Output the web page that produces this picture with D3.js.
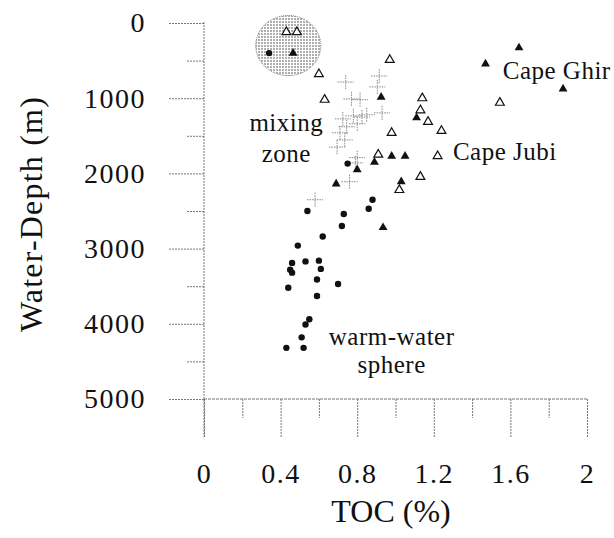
<!DOCTYPE html>
<html>
<head>
<meta charset="utf-8">
<script src="https://cdn.jsdelivr.net/npm/d3@7"></script>
</head>
<body style="margin:0; background:#fff">
<script>
// ---- data: TOC (%) vs water depth (m)

// warm-water sphere, filled circles
var circTOC   = [0.34, 0.75, 0.88, 0.86, 0.54, 0.73, 0.72, 0.62, 0.49, 0.46, 0.45, 0.46, 0.53, 0.60, 0.61, 0.59, 0.70, 0.44, 0.59, 0.55, 0.53, 0.51, 0.52, 0.43];
var circDepth = [400, 1870, 2350, 2470, 2500, 2540, 2700, 2840, 2960, 3190, 3280, 3320, 3170, 3160, 3270, 3410, 3470, 3520, 3630, 3940, 4010, 4180, 4320, 4320];

// Cape Ghir, filled triangles
var ghirTOC   = [0.465, 1.645, 1.47, 1.875, 0.925, 1.11, 0.98, 1.05, 0.89, 0.80, 0.69, 1.03, 0.935];
var ghirDepth = [400, 330, 545, 877, 985, 1260, 1770, 1770, 1850, 1950, 2140, 2110, 2720];

// Cape Jubi, open triangles
var jubiTOC   = [0.43, 0.485, 0.97, 0.60, 0.63, 1.14, 1.13, 1.17, 1.24, 0.98, 0.91, 1.22, 1.13, 1.02, 1.545];
var jubiDepth = [120, 120, 490, 680, 1020, 1000, 1160, 1315, 1435, 1460, 1750, 1770, 2045, 2220, 1060];

// mixing zone, crosses
var mixTOC   = [0.74, 0.915, 0.905, 0.77, 0.815, 0.93, 0.78, 0.725, 0.825, 0.80, 0.745, 0.71, 0.735, 0.695, 0.80, 0.79, 0.76, 0.58, 0.85];
var mixDepth = [785, 705, 850, 1010, 1020, 1195, 1235, 1275, 1250, 1340, 1380, 1460, 1555, 1650, 1790, 1860, 2110, 2350, 1220];

var xTicks = [0, 0.4, 0.8, 1.2, 1.6, 2];
var xMinor = [0.2, 0.6, 1.0, 1.4, 1.8];
var yTicks = [0, 1000, 2000, 3000, 4000, 5000];
var yMinor = [500, 1500, 2500, 3500, 4500];

var labels = [
  { text: "Cape Ghir", toc: 1.56, depth: 740, anchor: "start" },
  { text: "Cape Jubi", toc: 1.30, depth: 1820, anchor: "start" },
  { text: "mixing", toc: 0.43, depth: 1435, anchor: "middle" },
  { text: "zone", toc: 0.43, depth: 1845, anchor: "middle" },
  { text: "warm-water", toc: 0.98, depth: 4280, anchor: "middle" },
  { text: "sphere", toc: 0.98, depth: 4650, anchor: "middle" }
];

// ---- drawing
var width = 614, height = 538;
var serif = "'Liberation Serif'";
var svg = d3.select("body").append("svg")
  .attr("width", width).attr("height", height)
  .style("font-family", serif);

var x = d3.scaleLinear().domain([0, 2]).range([204, 587]);
var y = d3.scaleLinear().domain([0, 5000]).range([23, 399]);

var axisColor = "#777";

// serif face + size on a text selection
function serifText(sel, size) {
  sel.style("font-family", serif)
    .attr("font-size", size)
    .attr("fill", "#111");
}

// stipple pattern for the highlighted cluster
var defs = svg.append("defs");
var pat = defs.append("pattern")
  .attr("id", "stipple")
  .attr("width", 3).attr("height", 3)
  .attr("patternUnits", "userSpaceOnUse");
pat.append("circle").attr("cx", 1).attr("cy", 1).attr("r", 0.75).attr("fill", "#333");

svg.append("ellipse")
  .attr("cx", x(0.44)).attr("cy", y(300))
  .attr("rx", x(0.17) - x(0))
  .attr("ry", y(400) - y(0))
  .attr("fill", "url(#stipple)")
  .attr("stroke", "#555")
  .attr("stroke-width", 0.8)
  .attr("stroke-dasharray", "1,1");

// y axis, ticks pointing left
var yAxis = d3.axisLeft(y).tickValues(yTicks).tickSize(36).tickPadding(22)
  .tickFormat(d3.format("d"));
var gy = svg.append("g").attr("transform", "translate(204,0)").call(yAxis);
gy.select(".domain").remove();

var yAxisMinor = d3.axisLeft(y).tickValues(yMinor).tickSize(18).tickFormat("");
var gy2 = svg.append("g").attr("transform", "translate(204,0)").call(yAxisMinor);
gy2.select(".domain").remove();

// x axis, ticks pointing down from the 5000 m line
var xAxis = d3.axisBottom(x).tickValues(xTicks).tickSize(38).tickPadding(26)
  .tickFormat(function (d) { return d === 0 || d === 2 ? d3.format("d")(d) : d3.format(".1f")(d); });
var gx = svg.append("g").attr("transform", "translate(0,399)").call(xAxis);
gx.select(".domain").remove();

var xAxisMinor = d3.axisBottom(x).tickValues(xMinor).tickSize(19).tickFormat("");
var gx2 = svg.append("g").attr("transform", "translate(0,399)").call(xAxisMinor);
gx2.select(".domain").remove();

// drop the sans-serif / size attributes d3 puts on axis groups
svg.selectAll("g").attr("font-family", null).attr("font-size", null);
svg.selectAll(".tick line")
  .attr("stroke", axisColor)
  .attr("stroke-width", 1)
  .attr("stroke-dasharray", "2,1");
svg.selectAll(".tick text")
  .call(serifText, 28)
  .attr("letter-spacing", "1.5px");

// frame lines
svg.append("line")
  .attr("x1", x(0)).attr("x2", x(0))
  .attr("y1", y(0) - 1).attr("y2", 437)
  .attr("stroke", axisColor).attr("stroke-dasharray", "2,1");
svg.append("line")
  .attr("x1", x(0)).attr("x2", x(2))
  .attr("y1", y(5000)).attr("y2", y(5000))
  .attr("stroke", axisColor).attr("stroke-dasharray", "3,1");

// axis titles
svg.append("text")
  .attr("transform", "translate(42,214) rotate(-90)")
  .attr("text-anchor", "middle")
  .attr("letter-spacing", "1.2px")
  .call(serifText, 32)
  .text("Water-Depth (m)");

svg.append("text")
  .attr("x", 391).attr("y", 522)
  .attr("text-anchor", "middle")
  .call(serifText, 32)
  .text("TOC (%)");

// annotations
svg.selectAll("text.note")
  .data(labels)
  .enter()
  .append("text")
  .attr("class", "note")
  .attr("x", function (d) { return x(d.toc); })
  .attr("y", function (d) { return y(d.depth); })
  .attr("text-anchor", function (d) { return d.anchor; })
  .attr("letter-spacing", "0.5px")
  .call(serifText, 25)
  .text(function (d) { return d.text; });

// markers
var tri = d3.symbol().type(d3.symbolTriangle).size(34);

function pairs(a, b) {
  return a.map(function (v, i) { return [v, b[i]]; });
}

// crosses (mixing zone)
var gMix = svg.append("g")
  .attr("stroke", "#888")
  .attr("stroke-width", 1)
  .attr("stroke-dasharray", "1.5,1");
gMix.selectAll("path")
  .data(pairs(mixTOC, mixDepth))
  .enter()
  .append("path")
  .attr("d", function (d) {
    var cx = x(d[0]), cy = y(d[1]);
    return "M" + (cx - 8) + "," + cy + "H" + (cx + 8) + "M" + cx + "," + (cy - 7) + "V" + (cy + 7);
  });

// open triangles (Cape Jubi)
svg.append("g").selectAll("path")
  .data(pairs(jubiTOC, jubiDepth))
  .enter()
  .append("path")
  .attr("d", tri)
  .attr("transform", function (d) { return "translate(" + x(d[0]) + "," + y(d[1]) + ")"; })
  .attr("fill", "#fff")
  .attr("stroke", "#111")
  .attr("stroke-width", 1.2);

// filled triangles (Cape Ghir)
svg.append("g").selectAll("path")
  .data(pairs(ghirTOC, ghirDepth))
  .enter()
  .append("path")
  .attr("d", tri)
  .attr("transform", function (d) { return "translate(" + x(d[0]) + "," + y(d[1]) + ")"; })
  .attr("fill", "#111");

// filled circles
svg.append("g").selectAll("circle")
  .data(pairs(circTOC, circDepth))
  .enter()
  .append("circle")
  .attr("cx", function (d) { return x(d[0]); })
  .attr("cy", function (d) { return y(d[1]); })
  .attr("r", 3.2)
  .attr("fill", "#111");

// re-apply the serif face once the page has settled, in case something reset it
function refont() {
  svg.selectAll("text").style("font-family", serif, "important");
}
refont();
setTimeout(refont, 30);
setTimeout(refont, 200);
window.addEventListener("load", refont);
</script>
</body>
</html>
